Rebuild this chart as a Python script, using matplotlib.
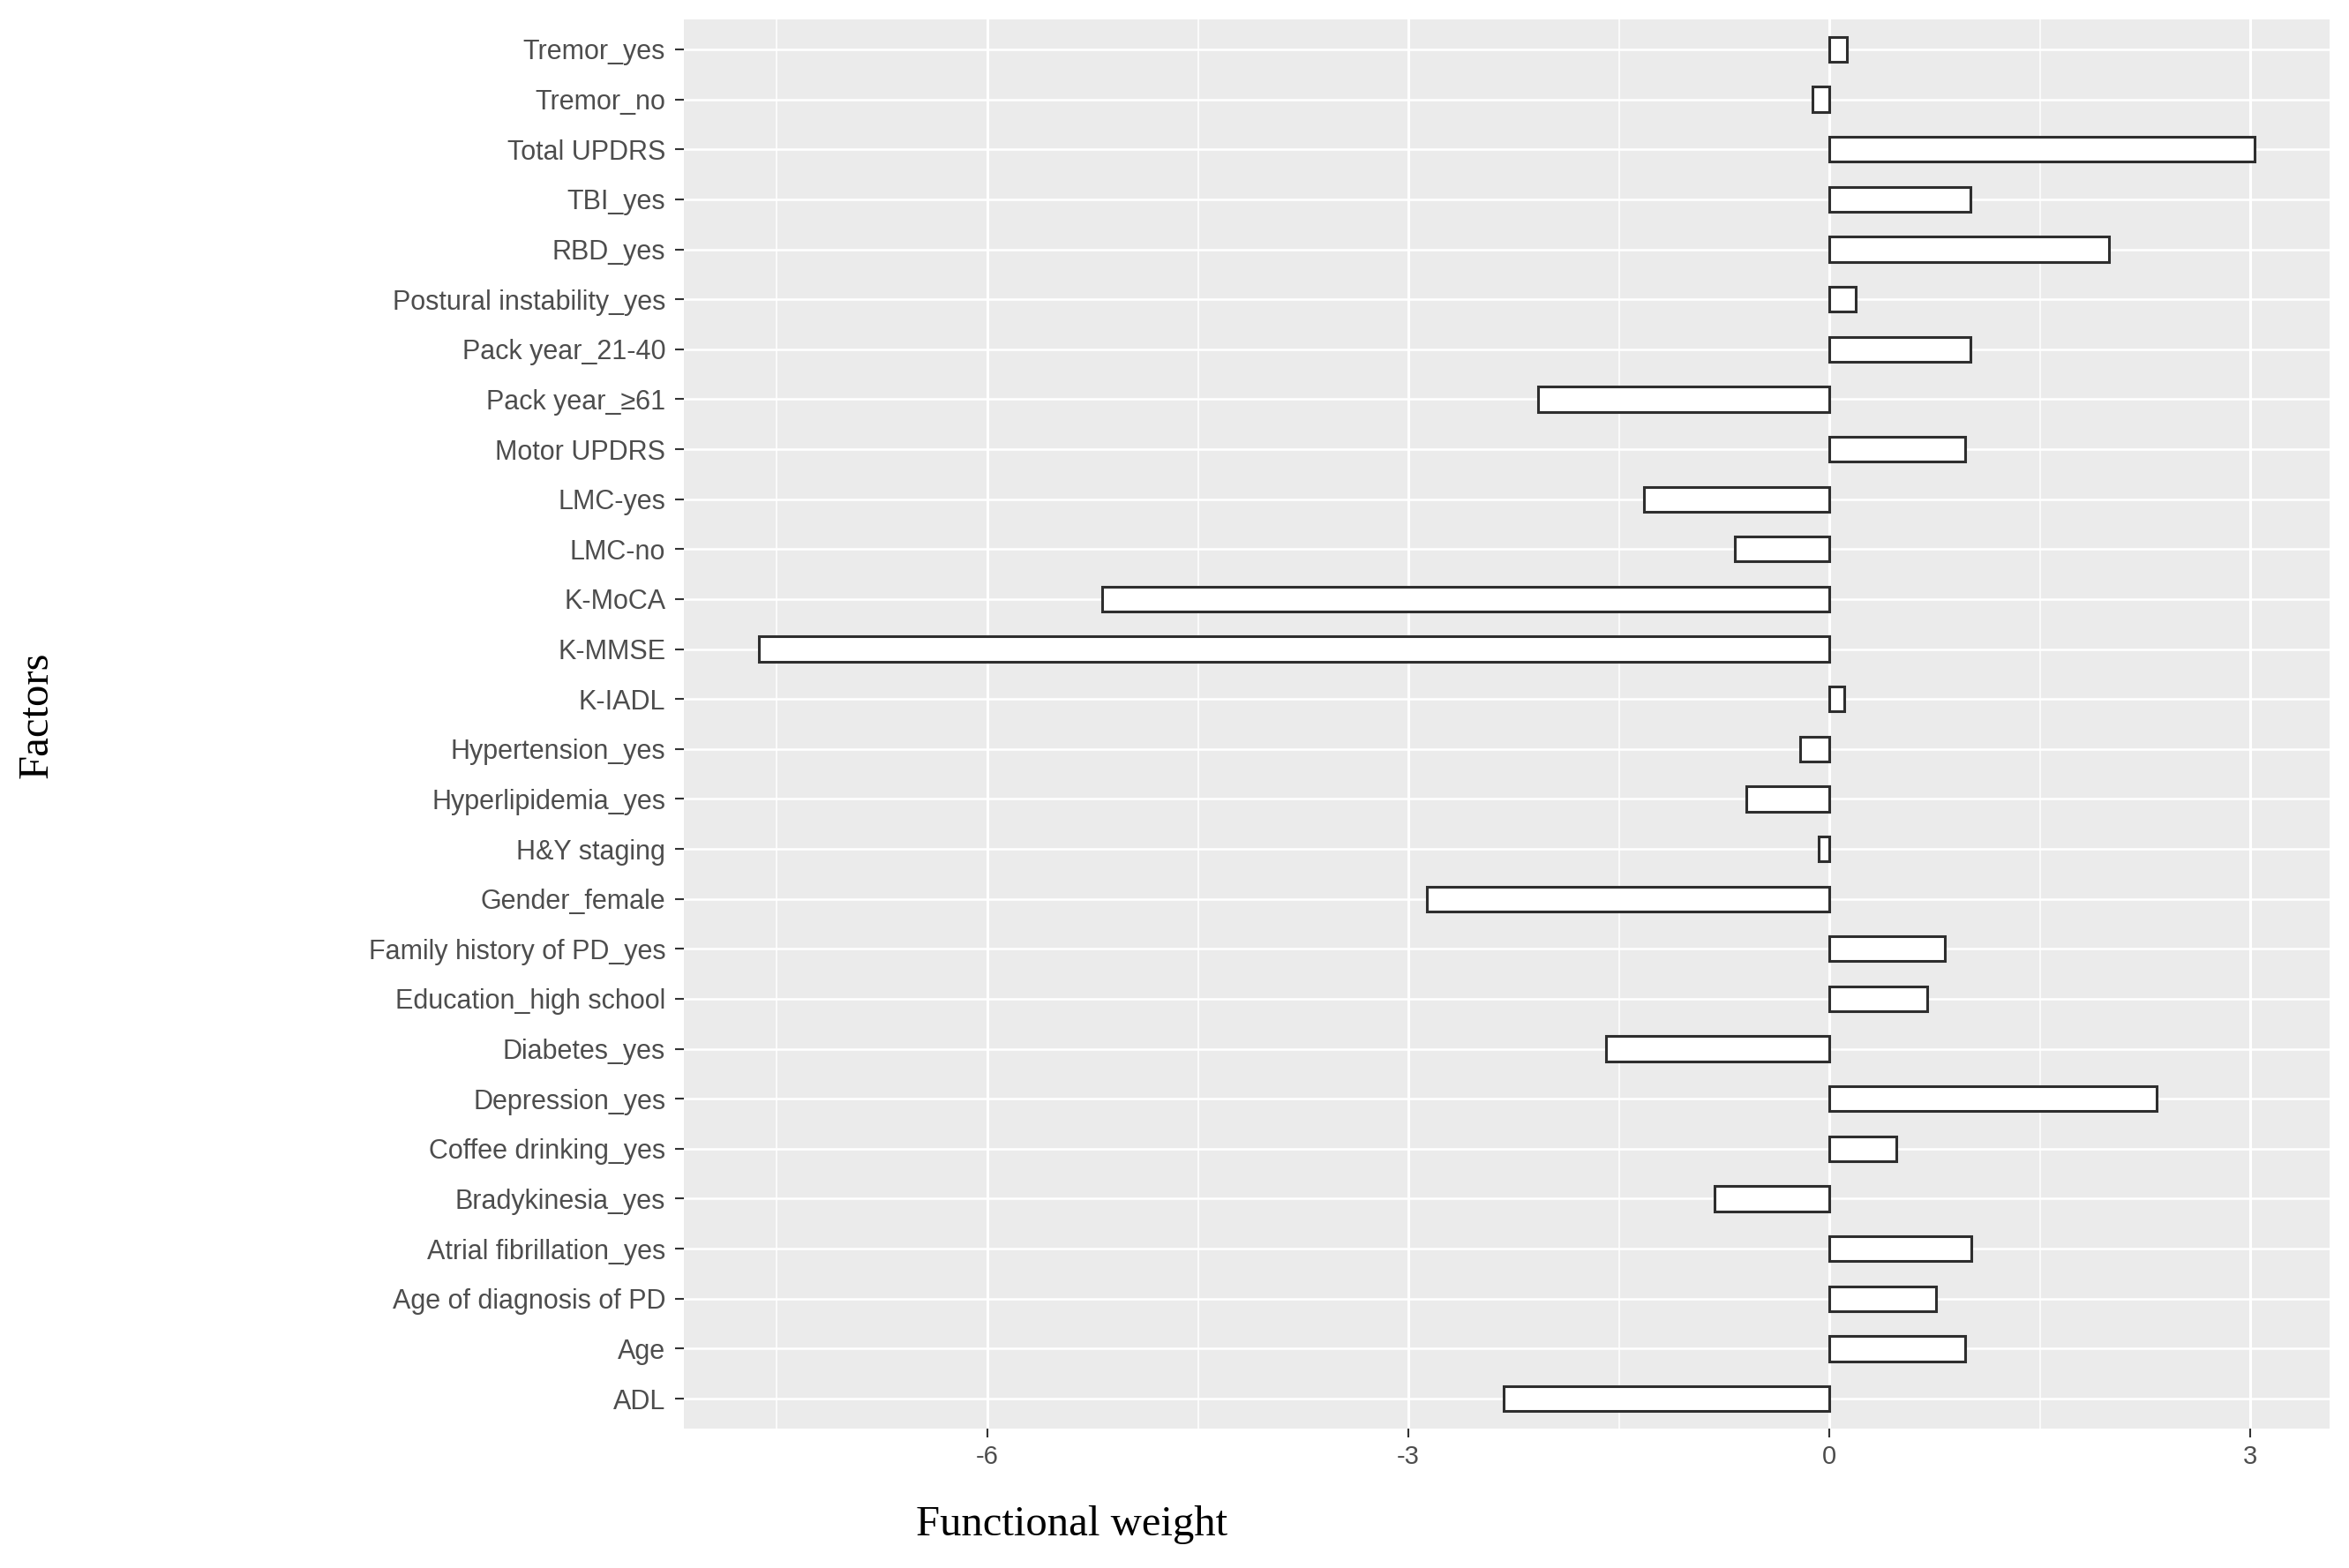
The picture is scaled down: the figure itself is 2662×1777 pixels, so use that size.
import matplotlib
matplotlib.use("Agg")
import matplotlib.pyplot as plt
import numpy as np

factors = ["ADL", "Age", "Age of diagnosis of PD", "Atrial fibrillation_yes",
           "Bradykinesia_yes", "Coffee drinking_yes", "Depression_yes", "Diabetes_yes",
           "Education_high school", "Family history of PD_yes", "Gender_female",
           "H&Y staging", "Hyperlipidemia_yes", "Hypertension_yes", "K-IADL", "K-MMSE",
           "K-MoCA", "LMC-no", "LMC-yes", "Motor UPDRS", "Pack year_\u226561",
           "Pack year_21-40", "Postural instability_yes", "RBD_yes", "TBI_yes",
           "Total UPDRS", "Tremor_no", "Tremor_yes"]
weights = [-2.32, 0.965, 0.756, 1.012, -0.82, 0.479, 2.328, -1.595, 0.693, 0.819, -2.87,
           -0.079, -0.595, -0.208, 0.104, -7.63, -5.18, -0.672, -1.32, 0.965, -2.076,
           1.007, 0.186, 1.99, 1.007, 3.03, -0.119, 0.122]
x_major = [-6, -3, 0, 3]
x_minor = [-7.5, -4.5, -1.5, 1.5]
x_ticklabels = ["-6", "-3", "0", "3"]

W, H = 2662, 1777
fig = plt.figure(figsize=(W / 100, H / 100), dpi=100)
fig.patch.set_facecolor("white")
ax = fig.add_axes([775 / W, 1 - 1619 / H, (2640 - 775) / W, (1619 - 22) / H])
ax.set_facecolor("#EBEBEB")

y = np.arange(len(factors))
lo, hi = min(weights), max(weights)
span = hi - lo
ax.set_xlim(lo - 0.05 * span, hi + 0.05 * span)
ax.set_ylim(-0.6, len(factors) - 1 + 0.6)

for xm in x_minor:
    ax.axvline(xm, color="white", lw=1.1, zorder=0.5)
for xm in x_major:
    ax.axvline(xm, color="white", lw=2.2, zorder=0.6)
for yy in y:
    ax.axhline(yy, color="white", lw=1.8, zorder=0.6)

ax.barh(y, weights, height=0.5, color="white", edgecolor="#2E2E2E", linewidth=2.2, zorder=2)

for s in ax.spines.values():
    s.set_visible(False)

ax.set_yticks(y)
ax.set_yticklabels(factors, family=["Liberation Sans", "DejaVu Sans"], fontsize=22, color="#4D4D4D")
ax.set_xticks(x_major)
ax.set_xticklabels(x_ticklabels, family=["Liberation Sans", "DejaVu Sans"], fontsize=21, color="#4D4D4D")
ax.tick_params(axis="both", length=7, width=1.5, color="#333333", pad=6)
ax.tick_params(axis="y", pad=8)

fig.text(1215 / W, 1 - 1728 / H, "Functional weight", family="Liberation Serif",
         fontsize=35, ha="center", va="center", color="black")
fig.text(42 / W, 1 - 810 / H, "Factors", family="Liberation Serif",
         fontsize=35, ha="center", va="center", rotation=90, color="black")

fig.savefig("out.png", dpi=100)
